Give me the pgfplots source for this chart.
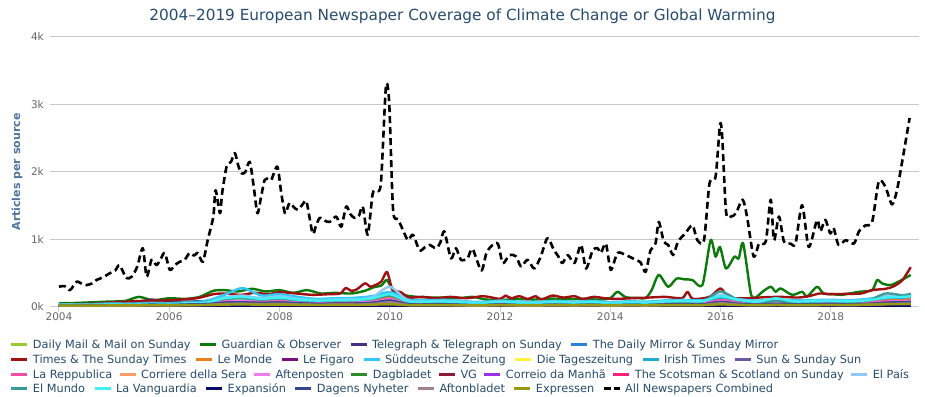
\documentclass[border=0pt]{standalone}
\usepackage{fontspec}
\setmainfont{DejaVu Sans}
\usepackage{pgfplots}
\usepackage{pgfplotstable}
\pgfplotsset{compat=1.18}
\definecolor{hctitle}{HTML}{274B6D}
\definecolor{hcaxtitle}{HTML}{4D759E}
\definecolor{hclabel}{HTML}{666666}
\definecolor{hcgrid}{HTML}{C8C8C8}
\definecolor{hcaxis}{HTML}{C0D0E0}
\definecolor{cdm}{HTML}{99CC33}
\definecolor{cgu}{HTML}{0B7A0B}
\definecolor{ctel}{HTML}{46307F}
\definecolor{cmir}{HTML}{2E7FD9}
\definecolor{ctim}{HTML}{A01010}
\definecolor{cmon}{HTML}{E8801E}
\definecolor{cfig}{HTML}{7A1080}
\definecolor{csz}{HTML}{30C8F8}
\definecolor{ctaz}{HTML}{FFF23A}
\definecolor{cirt}{HTML}{20AACC}
\definecolor{csun}{HTML}{6B5B9A}
\definecolor{crep}{HTML}{F04DA5}
\definecolor{ccor}{HTML}{FF9A6A}
\definecolor{caft}{HTML}{F07CF0}
\definecolor{cdag}{HTML}{2E8B2E}
\definecolor{cvg}{HTML}{8B1A3B}
\definecolor{ccm}{HTML}{9B30E8}
\definecolor{csco}{HTML}{FF1F7A}
\definecolor{cpais}{HTML}{90C8F8}
\definecolor{cmun}{HTML}{3A9A9A}
\definecolor{cvan}{HTML}{40F0F5}
\definecolor{cexn}{HTML}{0A0A6A}
\definecolor{cdn}{HTML}{33478F}
\definecolor{cafb}{HTML}{A0808A}
\definecolor{cexr}{HTML}{9A9A10}

\pgfplotstableread{
x dm tel mir mon fig sz taz irt sun rep cor aft dag vg cm sco pais mun van exn dn afb exr
2004.00 10 35 8 30 20 30 12 40 6 25 20 25 5 10 3 20 35 30 30 2 20 15 20
2004.33 12 40 10 28 22 35 10 38 8 28 18 30 6 12 4 22 40 35 28 3 22 14 22
2004.67 15 45 9 35 25 40 14 45 7 30 24 28 7 11 3 25 38 40 35 2 25 18 21
2005.00 18 55 12 40 28 50 15 50 9 35 26 34 8 14 5 28 45 45 40 3 28 20 24
2005.33 16 50 11 38 26 45 13 48 8 32 25 30 7 13 4 26 42 40 36 3 26 19 23
2005.67 22 110 14 50 35 60 18 60 12 45 30 40 10 18 6 35 55 55 50 4 35 25 26
2006.00 20 70 13 45 30 55 16 55 10 40 28 38 9 16 5 30 50 50 45 3 30 22 25
2006.33 25 80 16 55 38 70 20 65 12 50 35 45 11 20 6 38 60 60 55 4 38 28 28
2006.67 30 90 18 60 42 90 25 75 15 55 38 50 12 22 7 42 70 70 65 5 42 30 30
2007.00 45 140 30 90 60 180 60 120 25 80 55 75 18 35 10 65 140 120 130 8 65 45 35
2007.33 50 150 32 95 65 280 110 130 28 85 60 90 20 38 12 70 170 130 150 9 70 50 38
2007.67 42 130 28 85 55 170 50 110 22 75 50 70 16 30 9 60 130 110 120 7 60 42 34
2008.00 48 150 30 95 62 190 55 125 25 82 58 80 18 34 11 68 160 125 140 8 68 48 36
2008.33 40 120 25 80 50 150 40 105 20 70 48 65 15 28 9 55 120 100 110 6 55 38 32
2008.67 35 105 22 70 45 120 35 95 18 60 42 55 13 25 8 48 100 90 95 6 48 33 30
2009.00 38 115 24 75 48 130 38 100 19 65 45 60 14 26 8 50 110 95 100 6 50 35 31
2009.33 40 120 25 78 50 135 40 105 20 68 46 62 15 27 9 52 115 100 105 7 52 36 32
2009.67 45 140 28 90 58 160 48 120 24 78 52 72 17 32 10 60 140 115 125 8 60 42 34
2010.00 70 200 40 150 90 220 80 180 35 120 85 110 25 50 15 95 300 170 190 12 95 70 40
2010.33 32 100 20 65 42 110 32 85 16 55 38 50 12 22 7 42 95 80 85 5 42 30 28
2010.67 28 90 18 60 38 100 28 80 14 50 35 45 11 20 6 38 85 75 80 5 38 27 27
2011.00 30 95 19 62 40 105 30 82 15 52 36 48 12 21 6 40 90 78 82 5 40 28 27
2011.33 24 75 15 50 32 85 24 68 12 42 30 38 9 17 5 32 72 62 68 4 32 22 26
2011.67 20 65 13 45 28 75 20 60 10 38 26 34 8 15 4 28 62 55 60 3 28 20 25
2012.00 28 85 18 58 36 95 27 78 14 48 34 44 11 20 6 36 82 72 78 5 36 26 27
2012.33 22 70 14 48 30 80 22 65 11 40 28 36 9 16 5 30 68 58 64 4 30 21 26
2012.67 21 66 13 46 29 76 21 62 10 38 27 35 8 15 4 29 65 56 61 4 29 20 25
2013.00 26 80 16 55 34 90 26 74 13 46 32 42 10 19 5 34 78 68 74 5 34 25 27
2013.33 22 68 14 47 30 78 22 64 11 40 28 36 9 16 5 30 67 58 63 4 30 21 26
2013.67 26 78 16 54 34 88 25 72 13 45 32 41 10 19 5 34 76 66 72 5 34 24 27
2014.00 20 62 12 44 27 72 20 58 10 36 25 32 8 14 4 27 60 52 58 3 27 19 25
2014.33 24 74 15 51 32 84 24 68 12 43 30 39 9 18 5 32 72 63 69 4 32 23 26
2014.67 22 70 14 48 30 80 22 65 11 40 28 37 9 16 5 30 68 60 65 4 30 21 26
2015.00 28 88 18 60 38 98 28 80 14 50 35 46 11 21 6 38 85 75 82 5 38 27 28
2015.33 30 95 19 64 40 105 30 85 15 53 37 49 12 22 6 40 92 80 88 5 40 28 28
2015.67 29 90 18 62 39 100 29 82 14 51 36 47 12 21 6 39 88 78 85 5 39 27 28
2016.00 60 160 35 110 70 150 50 140 28 100 60 85 22 40 12 75 180 230 160 10 75 55 38
2016.33 38 110 24 78 48 115 36 100 18 64 44 58 14 26 8 48 110 100 105 6 48 34 30
2016.67 27 85 17 58 36 95 27 76 13 48 34 44 11 20 6 36 82 72 78 5 36 26 27
2017.00 34 100 21 70 44 110 33 92 16 90 40 52 13 24 7 100 98 86 130 6 44 31 29
2017.33 28 88 18 60 38 98 28 80 14 50 35 46 11 21 6 38 85 75 82 5 38 27 28
2017.67 30 92 19 64 40 102 30 84 15 53 37 48 12 22 6 40 90 80 86 5 40 28 28
2018.00 32 98 20 68 42 108 32 88 16 56 39 51 12 23 7 42 95 84 90 6 42 30 30
2018.33 29 90 18 62 39 100 29 82 14 51 36 47 12 21 6 39 88 78 84 5 39 27 30
2018.67 36 110 22 75 47 120 36 98 17 62 43 56 14 26 7 47 105 95 100 6 47 33 35
2019.00 50 150 30 100 65 150 48 130 24 85 58 76 19 36 10 65 160 200 140 9 65 46 40
2019.33 55 140 35 110 70 160 52 140 26 90 62 82 20 38 11 70 180 170 150 10 70 50 42
2019.45 60 160 38 120 75 170 55 150 28 95 65 85 22 40 12 75 190 200 160 10 75 52 45
}\minor

\pgfplotsset{
  hcl/.style={line width=2.4bp, smooth, tension=0.45, line join=round},
  hcleg/.style={hide axis, scale only axis, width=925bp, height=397bp,
    at={(0bp,0bp)}, anchor=south west, xmin=0, xmax=1, ymin=0, ymax=1,
    legend columns=-1, legend cell align=left,
    legend image code/.code={\draw[##1] (0bp,0bp) -- (16bp,0bp);},
    legend style={draw=none, fill=none, inner sep=0pt, outer sep=0pt, anchor=west,
      font=\fontsize{11.3bp}{13bp}\selectfont, text=hctitle,
      column sep=4bp, /tikz/every even column/.append style={column sep=8bp},
      nodes={inner sep=0pt}}},
  li/.style={line width=3bp, color=#1},
}

\begin{document}
\begin{tikzpicture}
\useasboundingbox (0,0) rectangle (925bp,397bp);
\begin{axis}[
  at={(50bp,90bp)}, anchor=south west,
  scale only axis, width=869bp, height=270bp,
  xmin=2003.837, xmax=2019.6, ymin=0, ymax=4000,
  axis lines=left, axis line style={-},
  x axis line style={draw=hcaxis, line width=1bp},
  y axis line style={draw=none},
  ymajorgrids, major grid style={draw=hcgrid, line width=1bp},
  ytick={0,1000,2000,3000,4000}, yticklabels={0k,1k,2k,3k,4k},
  xtick={2004,2006,2008,2010,2012,2014,2016,2018},
  xticklabels={2004,2006,2008,2010,2012,2014,2016,2018},
  ytick style={draw=none}, xtick style={draw=hcaxis, line width=1bp},
  tick align=outside, major tick length=5bp,
  yticklabel style={font=\fontsize{10.5bp}{12bp}\selectfont, text=hclabel, inner sep=0pt, anchor=east, xshift=-1bp},
  xticklabel style={font=\fontsize{10.5bp}{12bp}\selectfont, text=hclabel, inner sep=0pt, anchor=north, yshift=-1bp},
  ylabel={Articles per source},
  ylabel style={at={(axis description cs:-0.038,0.5)}, anchor=center, font=\bfseries\fontsize{11bp}{13bp}\selectfont, text=hcaxtitle},
  title={2004–2019 European Newspaper Coverage of Climate Change or Global Warming},
  title style={at={(axis description cs:0.4747,1.056)}, anchor=center, font=\fontsize{15.3bp}{18bp}\selectfont, text=hctitle},
]
\addplot[hcl, color=cdm] table[x=x, y=dm] {\minor};
\addplot[hcl, color=cgu] coordinates {
(2004.00,55) (2004.30,60) (2004.60,70) (2004.90,80) (2005.20,90) (2005.45,150) (2005.70,100)
(2006.00,130) (2006.30,120) (2006.55,150) (2006.80,240) (2007.00,250) (2007.25,230) (2007.50,270)
(2007.75,230) (2008.00,250) (2008.25,210) (2008.50,250) (2008.75,200) (2009.00,210) (2009.30,200)
(2009.55,240) (2009.70,290) (2009.85,320) (2009.95,400) (2010.08,220) (2010.30,170) (2010.50,150)
(2010.75,140) (2011.00,140) (2011.26,130) (2011.50,150) (2011.75,110) (2012.05,105) (2012.30,120)
(2012.60,110) (2012.90,125) (2013.20,115) (2013.50,120) (2013.80,110) (2014.00,130) (2014.13,225)
(2014.28,145) (2014.50,135) (2014.64,130) (2014.75,250) (2014.88,475) (2015.05,300) (2015.20,420)
(2015.35,410) (2015.49,400) (2015.67,325) (2015.82,990) (2015.91,745) (2015.99,890) (2016.10,570)
(2016.25,745) (2016.33,720) (2016.41,940) (2016.55,200) (2016.64,145) (2016.76,225) (2016.91,300)
(2017.00,225) (2017.09,275) (2017.30,180) (2017.48,225) (2017.57,155) (2017.75,300) (2017.87,200)
(2018.05,190) (2018.20,180) (2018.51,225) (2018.75,250) (2018.84,400) (2018.93,350) (2019.11,330)
(2019.45,475)};
\addplot[hcl, color=ctel] table[x=x, y=tel] {\minor};
\addplot[hcl, color=cmir] table[x=x, y=mir] {\minor};
\addplot[hcl, color=ctim] coordinates {
(2004.00,40) (2004.50,45) (2005.00,70) (2005.50,90) (2006.00,100) (2006.50,130) (2006.80,190)
(2007.00,200) (2007.30,180) (2007.55,210) (2007.80,190) (2008.00,220) (2008.30,200) (2008.60,180)
(2008.90,190) (2009.10,200) (2009.20,280) (2009.30,240) (2009.40,260) (2009.55,350) (2009.65,300)
(2009.75,330) (2009.85,380) (2009.95,520) (2010.05,260) (2010.20,220) (2010.35,140) (2010.60,150)
(2010.85,130) (2011.10,150) (2011.40,130) (2011.70,160) (2012.00,120) (2012.10,170) (2012.20,130)
(2012.35,160) (2012.50,120) (2012.65,160) (2012.75,110) (2012.95,170) (2013.15,140) (2013.35,160)
(2013.50,120) (2013.70,150) (2013.90,130) (2014.10,120) (2014.40,130) (2014.70,140) (2015.00,150)
(2015.30,130) (2015.40,225) (2015.50,120) (2015.80,150) (2016.00,275) (2016.15,140) (2016.50,130)
(2016.80,145) (2017.10,150) (2017.40,140) (2017.60,160) (2017.80,200) (2018.00,190) (2018.30,195)
(2018.55,200) (2018.75,250) (2019.00,270) (2019.15,310) (2019.30,400) (2019.45,590)};
\addplot[hcl, color=cmon] table[x=x, y=mon] {\minor};
\addplot[hcl, color=cfig] table[x=x, y=fig] {\minor};
\addplot[hcl, color=csz] table[x=x, y=sz] {\minor};
\addplot[hcl, color=ctaz] table[x=x, y=taz] {\minor};
\addplot[hcl, color=cirt] table[x=x, y=irt] {\minor};
\addplot[hcl, color=csun] table[x=x, y=sun] {\minor};
\addplot[hcl, color=crep] table[x=x, y=rep] {\minor};
\addplot[hcl, color=ccor] table[x=x, y=cor] {\minor};
\addplot[hcl, color=caft] table[x=x, y=aft] {\minor};
\addplot[hcl, color=cdag] table[x=x, y=dag] {\minor};
\addplot[hcl, color=cvg] table[x=x, y=vg] {\minor};
\addplot[hcl, color=ccm] table[x=x, y=cm] {\minor};
\addplot[hcl, color=csco] table[x=x, y=sco] {\minor};
\addplot[hcl, color=cpais] table[x=x, y=pais] {\minor};
\addplot[hcl, color=cmun] table[x=x, y=mun] {\minor};
\addplot[hcl, color=cvan] table[x=x, y=van] {\minor};
\addplot[hcl, color=cexn] table[x=x, y=exn] {\minor};
\addplot[hcl, color=cdn] table[x=x, y=dn] {\minor};
\addplot[hcl, color=cafb] table[x=x, y=afb] {\minor};
\addplot[hcl, color=cexr] table[x=x, y=exr] {\minor};
\addplot[hcl, color=black, line width=2.6bp, dash pattern=on 7bp off 4bp, line cap=butt] coordinates {
(2004.00,300) (2004.10,310) (2004.20,250) (2004.32,375) (2004.42,340) (2004.50,325) (2004.60,350)
(2004.68,400) (2004.80,440) (2004.92,500) (2005.02,540) (2005.10,620) (2005.22,430) (2005.32,450)
(2005.42,600) (2005.52,870) (2005.59,450) (2005.68,700) (2005.77,620) (2005.85,720) (2005.92,800)
(2006.01,550) (2006.10,620) (2006.19,670) (2006.28,700) (2006.37,800) (2006.45,760) (2006.52,800)
(2006.61,670) (2006.70,1000) (2006.80,1340) (2006.84,1730) (2006.92,1390) (2006.96,1690) (2007.04,2080)
(2007.12,2150) (2007.19,2280) (2007.25,2100) (2007.31,1980) (2007.38,2000) (2007.46,2150) (2007.53,1800)
(2007.60,1390) (2007.67,1650) (2007.73,1880) (2007.80,1900) (2007.85,1880) (2007.96,2080) (2008.03,1700)
(2008.10,1390) (2008.18,1540) (2008.26,1480) (2008.33,1440) (2008.42,1520) (2008.49,1560) (2008.60,1090)
(2008.66,1200) (2008.73,1320) (2008.82,1280) (2008.91,1260) (2009.03,1340) (2009.12,1190) (2009.21,1490)
(2009.28,1380) (2009.36,1320) (2009.44,1350) (2009.51,1490) (2009.60,1070) (2009.69,1680) (2009.76,1720)
(2009.84,1840) (2009.93,3260) (2009.99,3020) (2010.06,1440) (2010.15,1300) (2010.24,1140) (2010.33,990)
(2010.42,1070) (2010.54,840) (2010.63,880) (2010.72,920) (2010.84,870) (2010.92,960) (2010.99,1120)
(2011.11,720) (2011.20,870) (2011.29,700) (2011.41,720) (2011.50,860) (2011.66,540) (2011.75,790)
(2011.84,900) (2011.96,940) (2012.05,650) (2012.17,770) (2012.29,750) (2012.38,600) (2012.50,700)
(2012.62,570) (2012.74,750) (2012.86,1020) (2012.98,840) (2013.05,760) (2013.13,650) (2013.23,770)
(2013.35,650) (2013.47,920) (2013.56,570) (2013.68,840) (2013.77,870) (2013.83,800) (2013.92,940)
(2014.01,550) (2014.13,800) (2014.28,770) (2014.46,700) (2014.55,660) (2014.64,520) (2014.73,840)
(2014.82,940) (2014.88,1260) (2014.97,970) (2015.05,920) (2015.14,770) (2015.23,970) (2015.36,1090)
(2015.49,1210) (2015.58,990) (2015.70,990) (2015.80,1830) (2015.91,1930) (2015.99,2700) (2016.03,2520)
(2016.10,1410) (2016.19,1340) (2016.28,1390) (2016.40,1590) (2016.48,1340) (2016.60,750) (2016.70,940)
(2016.82,970) (2016.91,1590) (2016.97,990) (2017.06,1340) (2017.15,970) (2017.27,940) (2017.36,940)
(2017.48,1510) (2017.60,890) (2017.75,1290) (2017.81,1120) (2017.90,1290) (2017.99,1090) (2018.05,1170)
(2018.14,920) (2018.27,990) (2018.42,940) (2018.51,1120) (2018.63,1210) (2018.75,1260) (2018.87,1860)
(2018.99,1780) (2019.11,1520) (2019.20,1730) (2019.30,2180) (2019.43,2800)};
\end{axis}

\begin{axis}[hcleg, legend style={at={(0.01081,0.1315)}}]
\addlegendimage{li=cdm}\addlegendentry{Daily Mail \& Mail on Sunday}
\addlegendimage{li=cgu}\addlegendentry{Guardian \& Observer}
\addlegendimage{li=ctel}\addlegendentry{Telegraph \& Telegraph on Sunday}
\addlegendimage{li=cmir}\addlegendentry{The Daily Mirror \& Sunday Mirror}
\end{axis}
\begin{axis}[hcleg, legend style={at={(0.01081,0.0937)}}]
\addlegendimage{li=ctim}\addlegendentry{Times \& The Sunday Times}
\addlegendimage{li=cmon}\addlegendentry{Le Monde}
\addlegendimage{li=cfig}\addlegendentry{Le Figaro}
\addlegendimage{li=csz}\addlegendentry{Süddeutsche Zeitung}
\addlegendimage{li=ctaz}\addlegendentry{Die Tageszeitung}
\addlegendimage{li=cirt}\addlegendentry{Irish Times}
\addlegendimage{li=csun}\addlegendentry{Sun \& Sunday Sun}
\end{axis}
\begin{axis}[hcleg, legend style={at={(0.01081,0.0559)}, /tikz/every even column/.append style={column sep=6bp}}]
\addlegendimage{li=crep}\addlegendentry{La Reppublica}
\addlegendimage{li=ccor}\addlegendentry{Corriere della Sera}
\addlegendimage{li=caft}\addlegendentry{Aftenposten}
\addlegendimage{li=cdag}\addlegendentry{Dagbladet}
\addlegendimage{li=cvg}\addlegendentry{VG}
\addlegendimage{li=ccm}\addlegendentry{Correio da Manhã}
\addlegendimage{li=csco}\addlegendentry{The Scotsman \& Scotland on Sunday}
\addlegendimage{li=cpais}\addlegendentry{El País}
\end{axis}
\begin{axis}[hcleg, legend style={at={(0.01081,0.0207)}}]
\addlegendimage{li=cmun}\addlegendentry{El Mundo}
\addlegendimage{li=cvan}\addlegendentry{La Vanguardia}
\addlegendimage{li=cexn}\addlegendentry{Expansión}
\addlegendimage{li=cdn}\addlegendentry{Dagens Nyheter}
\addlegendimage{li=cafb}\addlegendentry{Aftonbladet}
\addlegendimage{li=cexr}\addlegendentry{Expressen}
\addlegendimage{line width=3bp, color=black, dash pattern=on 7bp off 3bp}\addlegendentry{All Newspapers Combined}
\end{axis}
\end{tikzpicture}
\end{document}
